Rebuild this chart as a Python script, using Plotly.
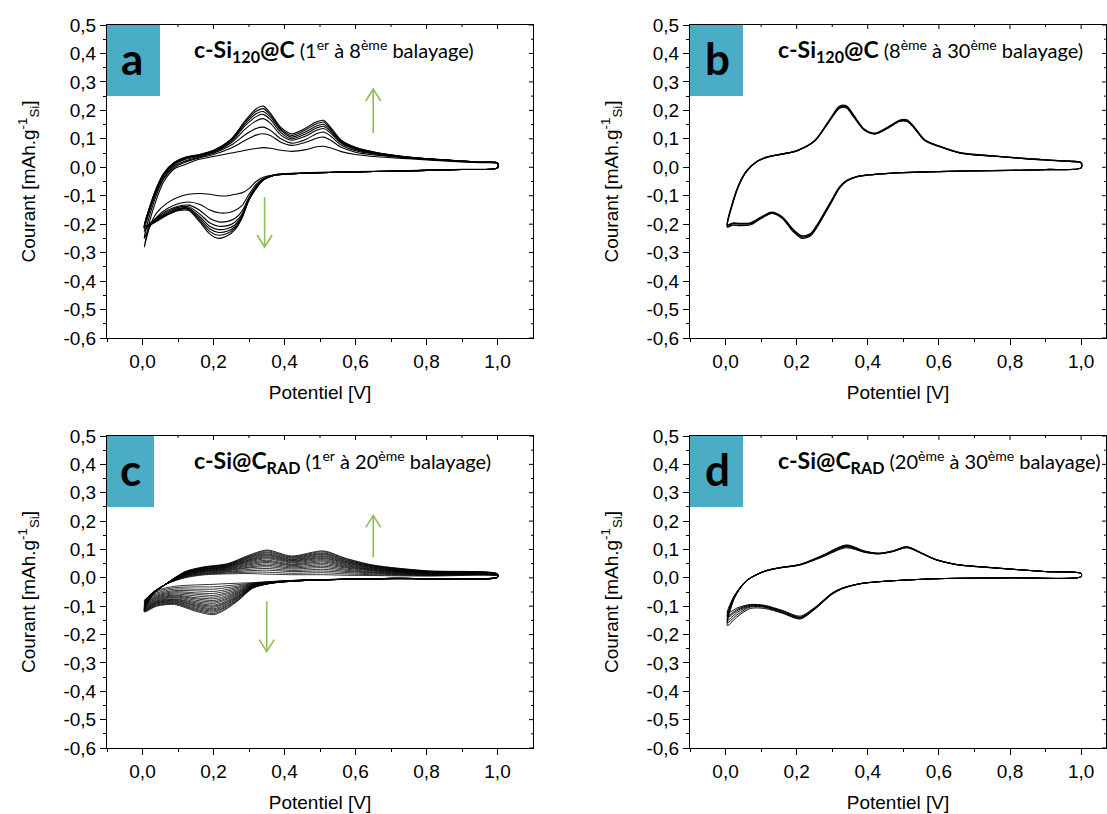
import plotly.graph_objects as go

# ------------------------------------------------------------------ data
x_tick_vals = [0.0, 0.2, 0.4, 0.6, 0.8, 1.0]
x_tick_labels = ["0,0", "0,2", "0,4", "0,6", "0,8", "1,0"]
x_minor_vals = [-0.1, 0.1, 0.3, 0.5, 0.7, 0.9]
y_tick_vals = [-0.6, -0.5, -0.4, -0.3, -0.2, -0.1, 0.0, 0.1, 0.2, 0.3, 0.4, 0.5]
y_tick_labels = ["-0,6", "-0,5", "-0,4", "-0,3", "-0,2", "-0,1", "0,0", "0,1", "0,2", "0,3", "0,4", "0,5"]
y_minor_vals = [-0.55, -0.45, -0.35, -0.25, -0.15, -0.05, 0.05, 0.15, 0.25, 0.35, 0.45]

# Panel a / b : common potential grids (V)
ab_anodic_x = [0.005, 0.02, 0.04, 0.06, 0.09, 0.12, 0.16, 0.20, 0.25, 0.29, 0.32, 0.34, 0.36,
               0.39, 0.42, 0.46, 0.49, 0.51, 0.53, 0.56, 0.60, 0.66, 0.75, 0.85, 0.95, 1.0]
ab_cathodic_x = [1.0, 0.9, 0.8, 0.7, 0.6, 0.5, 0.44, 0.40, 0.37, 0.34, 0.32, 0.30, 0.28, 0.26,
                 0.24, 0.215, 0.19, 0.16, 0.13, 0.10, 0.07, 0.04, 0.02, 0.005]

# Panel a : cycles 1 -> 8 (anodic sweep, then cathodic sweep)
a_anodic_y = [
    [-0.28, -0.19, -0.11, -0.05, -0.005, 0.01, 0.028, 0.038, 0.05, 0.06, 0.066, 0.069, 0.067, 0.06, 0.056, 0.062, 0.072, 0.074, 0.068, 0.055, 0.045, 0.037, 0.03, 0.022, 0.016, 0.013],
    [-0.25, -0.17, -0.095, -0.04, 0.0, 0.018, 0.033, 0.045, 0.068, 0.095, 0.113, 0.118, 0.112, 0.088, 0.077, 0.088, 0.102, 0.106, 0.095, 0.07, 0.053, 0.042, 0.032, 0.024, 0.017, 0.014],
    [-0.225, -0.155, -0.085, -0.035, 0.005, 0.022, 0.036, 0.049, 0.078, 0.115, 0.136, 0.141, 0.13, 0.1, 0.085, 0.098, 0.118, 0.124, 0.11, 0.078, 0.058, 0.045, 0.033, 0.025, 0.018, 0.014],
    [-0.215, -0.15, -0.08, -0.03, 0.01, 0.027, 0.039, 0.052, 0.086, 0.135, 0.163, 0.171, 0.155, 0.113, 0.095, 0.11, 0.13, 0.136, 0.12, 0.084, 0.062, 0.047, 0.034, 0.025, 0.018, 0.015],
    [-0.21, -0.145, -0.077, -0.027, 0.013, 0.03, 0.041, 0.055, 0.091, 0.147, 0.178, 0.186, 0.168, 0.122, 0.10, 0.118, 0.138, 0.144, 0.126, 0.087, 0.065, 0.049, 0.035, 0.025, 0.018, 0.015],
    [-0.21, -0.143, -0.074, -0.024, 0.015, 0.032, 0.043, 0.057, 0.095, 0.154, 0.188, 0.196, 0.177, 0.13, 0.106, 0.125, 0.145, 0.151, 0.131, 0.09, 0.067, 0.05, 0.035, 0.026, 0.018, 0.015],
    [-0.21, -0.141, -0.072, -0.022, 0.017, 0.034, 0.044, 0.058, 0.098, 0.16, 0.197, 0.206, 0.184, 0.135, 0.112, 0.132, 0.153, 0.159, 0.136, 0.093, 0.069, 0.051, 0.036, 0.026, 0.018, 0.015],
    [-0.215, -0.14, -0.07, -0.02, 0.018, 0.035, 0.045, 0.06, 0.10, 0.165, 0.205, 0.215, 0.19, 0.14, 0.118, 0.138, 0.16, 0.165, 0.14, 0.095, 0.07, 0.052, 0.036, 0.026, 0.018, 0.015],
]
a_cathodic_y = [
    [-0.002, -0.007, -0.01, -0.013, -0.015, -0.018, -0.02, -0.022, -0.026, -0.035, -0.05, -0.075, -0.09, -0.095, -0.1, -0.1, -0.095, -0.092, -0.095, -0.105, -0.125, -0.16, -0.21, -0.28],
    [-0.002, -0.008, -0.011, -0.014, -0.016, -0.019, -0.021, -0.023, -0.027, -0.04, -0.06, -0.095, -0.135, -0.152, -0.16, -0.16, -0.15, -0.13, -0.122, -0.128, -0.145, -0.175, -0.21, -0.25],
    [-0.002, -0.008, -0.011, -0.014, -0.016, -0.019, -0.022, -0.024, -0.028, -0.042, -0.066, -0.105, -0.155, -0.18, -0.19, -0.192, -0.18, -0.15, -0.133, -0.137, -0.152, -0.178, -0.2, -0.225],
    [-0.002, -0.008, -0.011, -0.014, -0.016, -0.019, -0.022, -0.024, -0.028, -0.043, -0.07, -0.11, -0.165, -0.193, -0.205, -0.207, -0.196, -0.163, -0.139, -0.141, -0.157, -0.181, -0.198, -0.215],
    [-0.002, -0.008, -0.011, -0.014, -0.016, -0.019, -0.022, -0.024, -0.028, -0.044, -0.072, -0.112, -0.17, -0.203, -0.215, -0.219, -0.208, -0.172, -0.143, -0.145, -0.161, -0.184, -0.199, -0.21],
    [-0.002, -0.008, -0.011, -0.014, -0.016, -0.019, -0.022, -0.025, -0.029, -0.045, -0.073, -0.113, -0.174, -0.21, -0.224, -0.229, -0.217, -0.179, -0.145, -0.148, -0.164, -0.186, -0.2, -0.21],
    [-0.002, -0.008, -0.011, -0.014, -0.016, -0.019, -0.022, -0.025, -0.029, -0.045, -0.074, -0.114, -0.177, -0.215, -0.232, -0.239, -0.226, -0.185, -0.148, -0.15, -0.166, -0.188, -0.202, -0.21],
    [-0.002, -0.008, -0.011, -0.014, -0.016, -0.019, -0.022, -0.025, -0.029, -0.045, -0.075, -0.115, -0.18, -0.22, -0.24, -0.25, -0.235, -0.19, -0.152, -0.153, -0.168, -0.19, -0.205, -0.215],
]

# Panel b : cycles 8 -> 30 (almost superimposed)
b_anodic_y = [
    [-0.207, -0.125, -0.055, -0.012, 0.022, 0.037, 0.047, 0.058, 0.092, 0.16, 0.21, 0.212, 0.18, 0.132, 0.118, 0.142, 0.163, 0.163, 0.14, 0.095, 0.074, 0.05, 0.04, 0.03, 0.022, 0.016],
    [-0.21, -0.127, -0.056, -0.013, 0.021, 0.036, 0.046, 0.058, 0.093, 0.162, 0.214, 0.216, 0.184, 0.134, 0.12, 0.144, 0.166, 0.167, 0.143, 0.097, 0.075, 0.051, 0.04, 0.03, 0.022, 0.016],
    [-0.203, -0.123, -0.054, -0.011, 0.022, 0.037, 0.047, 0.058, 0.091, 0.158, 0.207, 0.209, 0.178, 0.131, 0.117, 0.14, 0.161, 0.161, 0.139, 0.094, 0.073, 0.05, 0.039, 0.03, 0.022, 0.016],
]
b_cathodic_y = [
    [-0.002, -0.008, -0.011, -0.013, -0.015, -0.019, -0.023, -0.027, -0.033, -0.048, -0.072, -0.115, -0.158, -0.2, -0.235, -0.245, -0.222, -0.178, -0.16, -0.178, -0.198, -0.2, -0.198, -0.207],
    [-0.002, -0.008, -0.011, -0.013, -0.015, -0.019, -0.023, -0.027, -0.033, -0.049, -0.074, -0.118, -0.162, -0.205, -0.24, -0.25, -0.226, -0.18, -0.162, -0.18, -0.202, -0.205, -0.203, -0.21],
    [-0.002, -0.008, -0.011, -0.013, -0.015, -0.019, -0.023, -0.027, -0.033, -0.047, -0.07, -0.112, -0.155, -0.197, -0.232, -0.241, -0.218, -0.175, -0.158, -0.175, -0.195, -0.197, -0.196, -0.203],
]

# Panel c : cycles 1 -> 20, readings listed per potential (one value per cycle)
c_anodic_x = [0.005, 0.03, 0.07, 0.12, 0.17, 0.24, 0.30, 0.35, 0.42, 0.51, 0.57, 0.65, 0.80, 1.0]
c_anodic_by_potential = [
    [-0.080, -0.083, -0.086, -0.089, -0.092, -0.094, -0.097, -0.099, -0.101, -0.103, -0.105, -0.107, -0.109, -0.110, -0.112, -0.114, -0.115, -0.117, -0.118, -0.120],
    [-0.050, -0.051, -0.051, -0.052, -0.052, -0.053, -0.053, -0.054, -0.054, -0.055, -0.055, -0.055, -0.056, -0.056, -0.056, -0.057, -0.057, -0.057, -0.058, -0.058],
    [-0.020, -0.020, -0.020, -0.020, -0.020, -0.020, -0.020, -0.019, -0.019, -0.019, -0.019, -0.019, -0.019, -0.019, -0.018, -0.018, -0.018, -0.018, -0.018, -0.018],
    [0.000, 0.002, 0.004, 0.005, 0.007, 0.008, 0.009, 0.011, 0.012, 0.013, 0.014, 0.015, 0.016, 0.017, 0.018, 0.018, 0.019, 0.020, 0.021, 0.022],
    [0.010, 0.012, 0.014, 0.016, 0.018, 0.020, 0.022, 0.023, 0.025, 0.026, 0.028, 0.029, 0.030, 0.031, 0.032, 0.034, 0.035, 0.036, 0.037, 0.038],
    [0.014, 0.017, 0.020, 0.022, 0.025, 0.027, 0.029, 0.031, 0.033, 0.035, 0.037, 0.038, 0.040, 0.041, 0.043, 0.044, 0.046, 0.047, 0.049, 0.050],
    [0.015, 0.020, 0.025, 0.030, 0.035, 0.038, 0.042, 0.046, 0.049, 0.053, 0.056, 0.059, 0.062, 0.064, 0.067, 0.070, 0.072, 0.075, 0.077, 0.080],
    [0.013, 0.020, 0.027, 0.033, 0.039, 0.044, 0.049, 0.054, 0.058, 0.062, 0.067, 0.071, 0.074, 0.078, 0.081, 0.084, 0.088, 0.091, 0.095, 0.098],
    [0.011, 0.016, 0.022, 0.026, 0.031, 0.035, 0.039, 0.043, 0.046, 0.049, 0.053, 0.056, 0.059, 0.061, 0.064, 0.066, 0.069, 0.072, 0.074, 0.077],
    [0.011, 0.018, 0.024, 0.030, 0.036, 0.041, 0.046, 0.051, 0.056, 0.060, 0.064, 0.068, 0.071, 0.075, 0.078, 0.082, 0.085, 0.088, 0.092, 0.095],
    [0.009, 0.014, 0.019, 0.023, 0.027, 0.031, 0.035, 0.038, 0.041, 0.044, 0.047, 0.050, 0.053, 0.055, 0.058, 0.060, 0.063, 0.065, 0.068, 0.070],
    [0.008, 0.011, 0.014, 0.017, 0.019, 0.021, 0.024, 0.026, 0.028, 0.029, 0.031, 0.033, 0.035, 0.036, 0.038, 0.039, 0.041, 0.042, 0.044, 0.045],
    [0.006, 0.008, 0.009, 0.010, 0.012, 0.013, 0.014, 0.015, 0.016, 0.017, 0.018, 0.019, 0.020, 0.020, 0.021, 0.022, 0.023, 0.023, 0.024, 0.025],
    [0.006, 0.007, 0.007, 0.008, 0.008, 0.009, 0.009, 0.010, 0.010, 0.011, 0.011, 0.011, 0.012, 0.012, 0.012, 0.013, 0.013, 0.013, 0.014, 0.014],
]
c_cathodic_x = [1.0, 0.7, 0.45, 0.36, 0.31, 0.27, 0.23, 0.20, 0.15, 0.09, 0.04, 0.005]
c_cathodic_by_potential = [
    [0.002, 0.002, 0.002, 0.002, 0.002, 0.002, 0.002, 0.002, 0.002, 0.002, 0.002, 0.002, 0.002, 0.002, 0.002, 0.002, 0.002, 0.002, 0.002, 0.002],
    [-0.003, -0.003, -0.003, -0.003, -0.003, -0.003, -0.003, -0.003, -0.003, -0.003, -0.002, -0.002, -0.002, -0.002, -0.002, -0.002, -0.002, -0.002, -0.002, -0.002],
    [-0.008, -0.008, -0.008, -0.008, -0.009, -0.009, -0.009, -0.009, -0.009, -0.009, -0.009, -0.009, -0.010, -0.010, -0.010, -0.010, -0.010, -0.010, -0.010, -0.010],
    [-0.013, -0.014, -0.014, -0.015, -0.015, -0.016, -0.016, -0.016, -0.017, -0.017, -0.017, -0.018, -0.018, -0.018, -0.019, -0.019, -0.019, -0.019, -0.020, -0.020],
    [-0.017, -0.019, -0.020, -0.022, -0.023, -0.024, -0.025, -0.027, -0.028, -0.029, -0.030, -0.031, -0.031, -0.032, -0.033, -0.034, -0.035, -0.035, -0.036, -0.037],
    [-0.019, -0.024, -0.029, -0.033, -0.037, -0.041, -0.045, -0.048, -0.051, -0.054, -0.057, -0.060, -0.063, -0.065, -0.068, -0.070, -0.073, -0.075, -0.078, -0.080],
    [-0.021, -0.029, -0.036, -0.043, -0.049, -0.055, -0.060, -0.066, -0.071, -0.076, -0.080, -0.085, -0.089, -0.092, -0.096, -0.100, -0.104, -0.107, -0.111, -0.115],
    [-0.023, -0.032, -0.040, -0.048, -0.055, -0.062, -0.068, -0.074, -0.080, -0.085, -0.090, -0.096, -0.100, -0.104, -0.109, -0.113, -0.117, -0.121, -0.126, -0.130],
    [-0.025, -0.032, -0.040, -0.046, -0.053, -0.058, -0.064, -0.070, -0.074, -0.079, -0.084, -0.088, -0.092, -0.096, -0.099, -0.103, -0.107, -0.111, -0.114, -0.118],
    [-0.030, -0.035, -0.040, -0.045, -0.049, -0.053, -0.057, -0.061, -0.064, -0.067, -0.070, -0.074, -0.076, -0.079, -0.081, -0.084, -0.086, -0.089, -0.091, -0.094],
    [-0.045, -0.049, -0.054, -0.058, -0.062, -0.065, -0.068, -0.071, -0.074, -0.077, -0.080, -0.082, -0.085, -0.087, -0.089, -0.091, -0.093, -0.096, -0.098, -0.100],
    [-0.080, -0.083, -0.086, -0.089, -0.092, -0.094, -0.097, -0.099, -0.101, -0.103, -0.105, -0.107, -0.109, -0.110, -0.112, -0.114, -0.115, -0.117, -0.118, -0.120],
]

# Panel d : cycles 20 -> 30
d_anodic_x = [0.005, 0.025, 0.06, 0.11, 0.15, 0.21, 0.27, 0.34, 0.39, 0.43, 0.47, 0.51, 0.55, 0.59, 0.65, 0.75, 0.9, 1.0]
d_cathodic_x = [1.0, 0.8, 0.6, 0.45, 0.38, 0.33, 0.30, 0.25, 0.21, 0.16, 0.11, 0.07, 0.035, 0.005]
d_anodic_y = [
    [-0.125, -0.062, -0.008, 0.022, 0.034, 0.045, 0.072, 0.106, 0.09, 0.084, 0.092, 0.106, 0.086, 0.064, 0.046, 0.035, 0.022, 0.015],
    [-0.135, -0.064, -0.008, 0.023, 0.034, 0.046, 0.074, 0.109, 0.091, 0.085, 0.093, 0.107, 0.087, 0.064, 0.046, 0.035, 0.022, 0.015],
    [-0.14, -0.066, -0.009, 0.023, 0.035, 0.046, 0.075, 0.111, 0.092, 0.085, 0.093, 0.108, 0.087, 0.065, 0.047, 0.036, 0.022, 0.015],
    [-0.15, -0.068, -0.009, 0.024, 0.035, 0.047, 0.076, 0.112, 0.093, 0.086, 0.094, 0.109, 0.088, 0.065, 0.047, 0.036, 0.022, 0.015],
    [-0.158, -0.07, -0.01, 0.024, 0.035, 0.047, 0.077, 0.114, 0.094, 0.086, 0.094, 0.109, 0.088, 0.065, 0.047, 0.036, 0.022, 0.015],
    [-0.168, -0.072, -0.01, 0.024, 0.036, 0.048, 0.078, 0.116, 0.095, 0.087, 0.095, 0.11, 0.089, 0.066, 0.047, 0.036, 0.022, 0.015],
]
d_cathodic_y = [
    [0.004, 0.0, -0.003, -0.012, -0.02, -0.035, -0.053, -0.105, -0.135, -0.115, -0.097, -0.094, -0.105, -0.125],
    [0.004, 0.0, -0.003, -0.012, -0.02, -0.036, -0.054, -0.107, -0.138, -0.117, -0.099, -0.096, -0.11, -0.135],
    [0.004, 0.0, -0.003, -0.012, -0.02, -0.036, -0.055, -0.108, -0.14, -0.119, -0.1, -0.098, -0.114, -0.14],
    [0.004, 0.0, -0.003, -0.012, -0.021, -0.037, -0.056, -0.11, -0.142, -0.121, -0.102, -0.1, -0.12, -0.15],
    [0.004, 0.0, -0.003, -0.012, -0.021, -0.037, -0.057, -0.111, -0.143, -0.123, -0.104, -0.103, -0.128, -0.158],
    [0.004, 0.0, -0.003, -0.012, -0.021, -0.038, -0.058, -0.112, -0.145, -0.125, -0.108, -0.108, -0.135, -0.168],
]

panel_letters = ["a", "b", "c", "d"]
panel_titles = [
    "<b><span style='font-size:23px'>c-Si<sub>120</sub>@C</span></b> (1<sup>er</sup> à 8<sup>ème</sup> balayage)",
    "<b><span style='font-size:23px'>c-Si<sub>120</sub>@C</span></b> (8<sup>ème</sup> à 30<sup>ème</sup> balayage)",
    "<b><span style='font-size:23px'>c-Si@C<sub>RAD</sub></span></b> (1<sup>er</sup> à 20<sup>ème</sup> balayage)",
    "<b><span style='font-size:23px'>c-Si@C<sub>RAD</sub></span></b> (20<sup>ème</sup> à 30<sup>ème</sup> balayage)",
]
x_title = "Potentiel [V]"
y_title = "Courant [mAh.g<sup>-1</sup><sub>Si</sub>]"

# ------------------------------------------------------------------ layout constants
W, H = 1107, 814
AX_FONT = "Liberation Sans, Arial, sans-serif"
TITLE_FONT = "Lato, Carlito, Calibri, sans-serif"
BOX_COLOR = "#4BACC6"
ARROW_COLOR = "#8DBE52"

# pixel boxes of the four plot areas: (left, right, top, bottom)
areas = [(107, 533, 25, 338), (690, 1106, 25, 338), (107, 533, 436, 748), (690, 1106, 436, 748)]
x_ranges = [[-0.1, 1.1], [-0.1, 1.07], [-0.1, 1.1], [-0.1, 1.07]]
letter_boxes = [(107, 160, 25, 96), (690, 743, 25, 96), (107, 154, 436, 507), (690, 743, 436, 507)]
letter_centers = [(132, 58), (717, 58), (130, 469), (717, 469)]
title_left = [(192, 50), (776, 50), (192, 461), (776, 461)]
line_widths = [1.1, 1.3, 0.8, 1.0]


def px_x(p):
    return p / W


def px_y(p):
    return 1 - p / H


fig = go.Figure()


def add_cycles(panel, an_x, ca_x, an_list, ca_list):
    sfx = "" if panel == 0 else str(panel + 1)
    for an_y, ca_y in zip(an_list, ca_list):
        fig.add_trace(go.Scatter(
            x=an_x + ca_x, y=an_y + ca_y, mode="lines",
            line=dict(color="black", width=line_widths[panel], shape="spline", smoothing=0.8),
            xaxis="x" + sfx, yaxis="y" + sfx, showlegend=False, hoverinfo="skip"))


add_cycles(0, ab_anodic_x, ab_cathodic_x, a_anodic_y, a_cathodic_y)
add_cycles(1, ab_anodic_x, ab_cathodic_x, b_anodic_y, b_cathodic_y)
c_anodic_y = [list(col) for col in zip(*c_anodic_by_potential)]
c_cathodic_y = [list(col) for col in zip(*c_cathodic_by_potential)]
add_cycles(2, c_anodic_x, c_cathodic_x, c_anodic_y, c_cathodic_y)
add_cycles(3, d_anodic_x, d_cathodic_x, d_anodic_y, d_cathodic_y)

layout = dict(
    width=W, height=H, margin=dict(l=0, r=0, t=0, b=0, autoexpand=False),
    paper_bgcolor="white", plot_bgcolor="white", showlegend=False,
    font=dict(family=AX_FONT, color="black"),
)

for i in range(4):
    sfx = "" if i == 0 else str(i + 1)
    l, r, t, b = areas[i]
    xd = [px_x(l), px_x(r)]
    yd = [px_y(b), px_y(t)]
    layout["xaxis" + sfx] = dict(
        domain=xd, range=x_ranges[i], anchor="y" + sfx, automargin=False,
        tickmode="array", tickvals=x_tick_vals, ticktext=x_tick_labels,
        ticks="outside", ticklen=6, tickwidth=1, tickcolor="black",
        minor=dict(tickmode="array", tickvals=x_minor_vals, ticks="outside", ticklen=3, tickwidth=1, tickcolor="black"),
        showline=True, linecolor="black", linewidth=1, mirror=True,
        showgrid=False, zeroline=False,
        tickfont=dict(family=AX_FONT, size=19, color="black"),
        title=dict(text=x_title, font=dict(family=AX_FONT, size=19, color="black"), standoff=14),
    )
    layout["yaxis" + sfx] = dict(
        domain=yd, range=[-0.6, 0.5], anchor="x" + sfx, automargin=False,
        tickmode="array", tickvals=y_tick_vals, ticktext=y_tick_labels,
        ticks="outside", ticklen=6, tickwidth=1, tickcolor="black",
        minor=dict(tickmode="array", tickvals=y_minor_vals, ticks="outside", ticklen=3, tickwidth=1, tickcolor="black"),
        showline=True, linecolor="black", linewidth=1, mirror=True,
        showgrid=False, zeroline=False,
        tickfont=dict(family=AX_FONT, size=19, color="black"),
        title=dict(text=y_title, font=dict(family=AX_FONT, size=19, color="black"), standoff=22),
    )

shapes = []
annotations = []
# inward ticks on the mirrored (top / right) frame sides, placed at the tick values
for i in range(4):
    sfx = "" if i == 0 else str(i + 1)
    for v in x_tick_vals + x_minor_vals:
        ln = 4 if v in x_tick_vals else 2
        shapes.append(dict(type="line", xref="x" + sfx, yref="y" + sfx + " domain", x0=v, x1=v,
                           y0=1, y1=1 - ln / 313, line=dict(color="black", width=1)))
    for v in y_tick_vals + y_minor_vals:
        ln = 4 if v in y_tick_vals else 2
        shapes.append(dict(type="line", xref="x" + sfx + " domain", yref="y" + sfx, x0=1, x1=1 - ln / 420,
                           y0=v, y1=v, line=dict(color="black", width=1)))

for i in range(4):
    bx0, bx1, by0, by1 = letter_boxes[i]
    shapes.append(dict(type="rect", xref="paper", yref="paper",
                       x0=px_x(bx0), x1=px_x(bx1), y0=px_y(by1), y1=px_y(by0),
                       fillcolor=BOX_COLOR, line=dict(width=0), layer="above"))
    cx, cy = letter_centers[i]
    annotations.append(dict(text="<b>" + panel_letters[i] + "</b>", xref="paper", yref="paper",
                            x=px_x(cx), y=px_y(cy), xanchor="center", yanchor="middle", showarrow=False,
                            font=dict(family=TITLE_FONT, size=44, color="black")))
    tx, ty = title_left[i]
    annotations.append(dict(text=panel_titles[i], xref="paper", yref="paper",
                            x=px_x(tx), y=px_y(ty), xanchor="left", yanchor="middle", showarrow=False,
                            font=dict(family=TITLE_FONT, size=20, color="black")))

# green trend arrows (data coordinates): (panel, x, y_tail, y_head)
arrows = [(0, 0.65, 0.12, 0.275), (0, 0.344, -0.105, -0.28), (2, 0.65, 0.072, 0.22), (2, 0.35, -0.083, -0.26)]
for panel, ax, y0, y1 in arrows:
    sfx = "" if panel == 0 else str(panel + 1)
    d = 1 if y1 > y0 else -1
    shapes.append(dict(type="line", xref="x" + sfx, yref="y" + sfx, x0=ax, x1=ax, y0=y0, y1=y1,
                       line=dict(color=ARROW_COLOR, width=1.6)))
    shapes.append(dict(type="path", xref="x" + sfx, yref="y" + sfx,
                       path=f"M {ax - 0.021},{y1 - d * 0.042} L {ax},{y1} L {ax + 0.021},{y1 - d * 0.042}",
                       line=dict(color=ARROW_COLOR, width=1.6)))

layout["shapes"] = shapes
layout["annotations"] = annotations
fig.update_layout(**layout)

fig.write_html(
    "out.html",
    config={"displayModeBar": False},
    post_script="document.body.style.margin='0px';document.body.style.padding='0px';"
                "document.documentElement.style.overflow='hidden';window.dispatchEvent(new Event('resize'));",
)
